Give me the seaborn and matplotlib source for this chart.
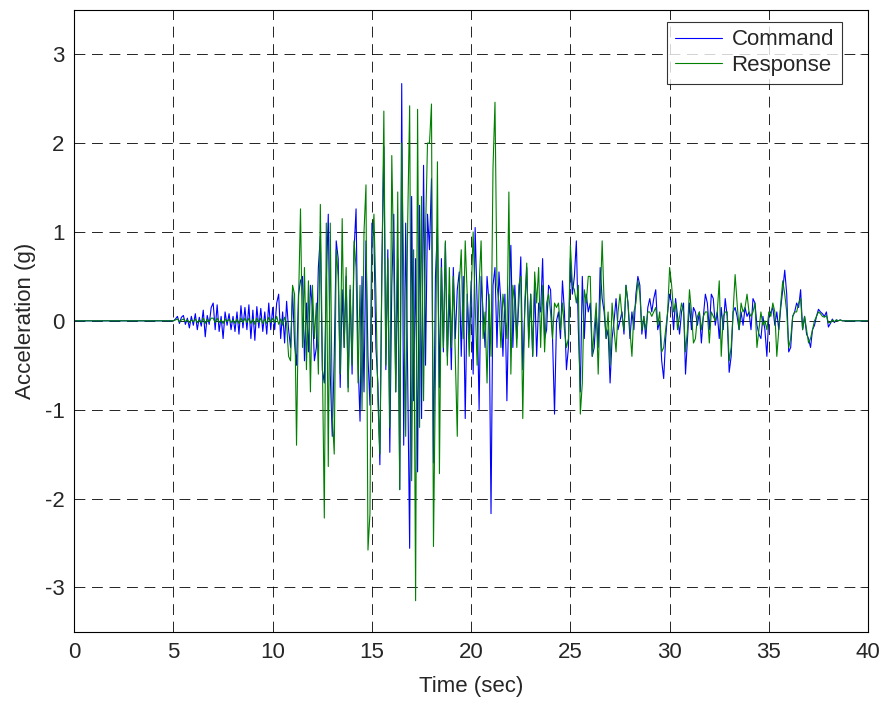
import numpy as np
import pandas as pd
import matplotlib
matplotlib.use('Agg')
from matplotlib import pyplot as plt
import seaborn as sns

sns.set_style('white')
plt.rcParams['font.family'] = ['Liberation Sans', 'DejaVu Sans']
plt.rcParams['axes.unicode_minus'] = False

# samples every 0.1 s starting at 5.0 s, signal is flat (0 g) outside this window
t_start = 5.0
dt = 0.1

# Command (blue), one row per second
command = [
    0.00, 0.02, 0.05, -0.03, 0.04, 0.06, -0.04, 0.03, -0.08, 0.05,
    -0.05, 0.08, -0.10, 0.04, -0.06, 0.12, -0.18, 0.06, -0.04, 0.15,
    0.20, -0.10, 0.18, -0.12, 0.05, -0.20, 0.10, -0.05, 0.08, -0.10,
    0.05, -0.12, 0.10, -0.15, 0.17, -0.08, 0.15, -0.10, 0.18, -0.20,
    0.12, -0.22, 0.16, -0.08, 0.14, -0.12, 0.10, -0.15, 0.20, -0.10,
    0.15, -0.10, 0.20, 0.30, -0.20, 0.10, -0.25, 0.22, -0.10, -0.30,
    0.35, -0.25, -0.50, 0.30, 0.45, 0.50, -0.45, 0.20, -0.35, 0.40,
    0.15, -0.45, -0.30, 0.60, 0.95, -0.55, -0.70, 0.45, 1.20, -0.60,
    -1.30, -0.40, 0.90, 0.70, -0.75, 0.35, -0.30, 0.50, -0.75, 0.35,
    -0.60, 0.80, 1.26, -0.45, -1.13, 0.50, -0.80, 0.90, -0.40, -0.95,
    1.10, 0.95, -0.30, -0.70, -1.62, 0.60, 1.96, -0.55, 0.80, -1.48,
    0.40, 1.20, -0.80, 0.70, -1.90, 2.67, -1.40, 1.10, -0.60, -2.56,
    1.40, -0.90, 0.70, -1.70, 1.30, -1.10, 1.75, -0.50, 1.20, 0.80,
    1.60, -1.60, 0.50, 1.05, -0.75, 0.70, -0.35, 0.88, -0.40, 0.30,
    -0.55, 0.60, -0.20, 0.35, 0.55, -0.40, 0.50, -1.10, 0.30, -0.20,
    0.45, -0.60, 1.05, 0.20, -1.00, 0.50, 0.10, -0.30, 0.50, 0.20,
    -2.17, 0.40, 0.60, -0.30, 0.55, 0.20, -0.40, 0.30, -0.90, 0.20,
    0.85, -0.30, 0.40, -0.20, 0.20, 0.72, -0.55, 0.10, 0.60, -0.20,
    0.30, -0.40, 0.40, -0.40, 0.20, 0.10, 0.70, -0.20, -0.10, 0.40,
    0.35, -0.20, -1.05, 0.00, 0.10, -0.20, 0.45, 0.10, -0.55, -0.30,
    0.70, 0.30, 0.50, 0.90, -0.10, -0.80, 0.50, -0.20, 0.30, 0.10,
    0.20, -0.40, -0.30, 0.10, -0.30, 0.60, 0.25, 0.10, -0.20, -0.10,
    -0.70, -0.20, 0.00, 0.25, -0.10, 0.00, 0.10, -0.15, 0.40, 0.20,
    -0.20, 0.10, -0.10, 0.30, 0.50, 0.40, -0.15, 0.05, -0.20, 0.15,
    0.25, 0.10, 0.25, 0.35, -0.10, 0.00, -0.45, -0.65, -0.20, 0.10,
    0.30, 0.20, -0.10, 0.25, 0.05, -0.15, 0.10, 0.20, -0.60, -0.20,
    0.20, -0.10, 0.15, 0.10, -0.05, 0.10, -0.25, 0.05, 0.30, 0.20,
    -0.10, 0.30, 0.25, -0.05, 0.10, -0.20, 0.15, -0.10, 0.25, 0.05,
    -0.58, -0.40, 0.10, 0.15, 0.05, -0.10, 0.10, -0.05, 0.15, 0.05,
    0.10, -0.10, 0.25, 0.20, -0.05, -0.15, -0.20, 0.05, -0.10, -0.40,
    0.05, 0.10, 0.15, -0.05, 0.10, -0.10, 0.15, 0.35, 0.57, 0.30,
    -0.35, -0.30, 0.05, 0.10, 0.20, 0.15, 0.35, -0.10, 0.05, -0.15,
    -0.20, -0.30, -0.10, -0.05, 0.05, 0.13, 0.10, 0.08, 0.05, 0.10,
    -0.07, -0.03, 0.02, -0.02, 0.01, 0.00, 0.01, 0.00, 0.00, 0.00,
]

# Response (green)
response = [
    0.00, 0.01, 0.02, -0.01, 0.01, 0.02, -0.01, 0.01, -0.02, 0.01,
    -0.01, 0.02, -0.02, 0.01, -0.02, 0.03, -0.03, 0.02, -0.01, 0.03,
    0.03, -0.02, 0.03, -0.02, 0.01, -0.03, 0.02, -0.01, 0.02, -0.02,
    0.01, -0.03, 0.02, -0.03, 0.03, -0.02, 0.03, -0.02, 0.03, -0.03,
    0.02, -0.04, 0.03, -0.02, 0.03, -0.03, 0.02, -0.03, 0.04, -0.02,
    0.03, -0.02, 0.05, -0.04, 0.02, -0.05, 0.04, -0.03, -0.40, -0.45,
    0.40, 0.30, -1.40, 0.20, 1.26, -0.30, 0.60, -0.55, 0.45, -0.80,
    0.40, -0.20, 0.20, -0.60, 1.31, -0.40, -2.22, 1.10, -1.64, 1.10,
    -1.06, -1.50, 0.80, 0.50, -0.60, 1.15, -0.30, 0.60, -0.80, 0.40,
    -0.50, 0.90, 0.60, -0.70, 0.40, -1.00, 1.00, 1.53, -2.58, -2.17,
    0.80, 1.20, 0.30, -0.90, -1.50, 0.50, 2.36, -0.50, 0.70, -1.20,
    1.86, 0.60, -0.80, 1.45, -1.90, 2.00, 0.50, -1.30, 1.10, 2.42,
    -1.80, 0.80, -3.15, 2.38, -1.20, 1.40, -0.90, 1.00, 2.00, 2.00,
    2.44, -2.54, -0.60, 1.79, -1.72, 0.60, -0.30, 0.90, -0.50, 0.60,
    -0.30, 0.50, -0.40, -1.30, 0.40, 0.80, -0.20, 0.90, 0.30, -0.40,
    0.30, 1.00, 0.20, -0.50, 0.40, 0.90, -0.20, 0.10, -0.70, 0.30,
    -0.40, 1.72, 2.46, 0.40, 0.20, -0.30, 0.30, 0.10, -0.20, 1.45,
    -0.60, 0.40, 0.20, -0.30, 0.40, 0.50, -1.10, 0.20, 0.65, -0.30,
    0.30, -0.40, 0.55, 0.20, 0.60, -0.30, 0.40, -0.35, 0.20, 0.30,
    0.10, -0.20, 0.20, 0.15, 0.20, -0.10, 0.20, -0.10, -0.30, -0.20,
    0.85, 0.40, 0.35, 0.20, 0.40, -1.05, -0.70, 0.35, 0.20, 0.50,
    0.50, -0.40, -0.10, 0.20, -0.60, 0.20, 0.90, 0.20, -0.20, 0.10,
    -0.50, 0.20, -0.10, -0.35, 0.10, 0.30, 0.05, -0.10, 0.40, 0.20,
    -0.10, -0.40, 0.10, 0.20, 0.45, 0.30, -0.10, 0.05, -0.10, 0.10,
    0.10, 0.05, 0.10, 0.15, -0.05, 0.10, -0.35, -0.30, -0.10, 0.10,
    0.60, 0.40, 0.10, 0.20, -0.10, 0.05, 0.20, 0.10, -0.35, -0.10,
    0.35, 0.10, -0.25, -0.20, 0.05, 0.10, -0.10, 0.05, 0.10, 0.10,
    -0.25, 0.10, 0.05, 0.00, 0.10, 0.45, -0.40, 0.05, 0.10, 0.10,
    -0.45, -0.30, 0.10, 0.52, 0.20, -0.10, 0.20, 0.10, 0.15, 0.30,
    0.10, 0.05, 0.10, 0.20, -0.30, -0.10, 0.10, -0.05, 0.00, -0.10,
    0.10, 0.05, 0.20, 0.10, -0.40, -0.10, 0.20, 0.45, 0.30, 0.10,
    -0.30, -0.20, 0.05, 0.10, 0.10, 0.20, 0.25, -0.10, 0.05, -0.10,
    -0.25, -0.20, -0.10, 0.00, 0.05, 0.10, 0.08, 0.05, 0.04, 0.06,
    -0.02, -0.02, 0.01, -0.01, 0.01, 0.00, 0.01, 0.00, 0.00, 0.00,
]

time = t_start + dt * np.arange(len(command))
# flat record before and after the shaking
time = np.concatenate([[0.0], time, [40.0]])
command = [0.0] + command + [0.0]
response = [0.0] + response + [0.0]

df = pd.concat([
    pd.DataFrame({'Time': time, 'Acceleration': command, 'Signal': 'Command'}),
    pd.DataFrame({'Time': time, 'Acceleration': response, 'Signal': 'Response'}),
])

fig = plt.figure(figsize=(8.84, 7.02), dpi=100)
ax = fig.add_axes([0.084, 0.1, 0.898, 0.886])
sns.lineplot(data=df, x='Time', y='Acceleration', hue='Signal',
             palette={'Command': (0, 0, 1), 'Response': (0, 0.5, 0)},
             linewidth=0.8, estimator=None, sort=False, ax=ax)

ax.set_xlim(0, 40)
ax.set_ylim(-3.5, 3.5)
ax.set_xticks(range(0, 41, 5))
ax.set_yticks(range(-3, 4))
ax.grid(True, color='black', linestyle=(0, (13, 8)), linewidth=0.6)
ax.tick_params(direction='in', top=True, right=True, labelsize=16, length=6,
               width=0.6, pad=7)
for s in ax.spines.values():
    s.set_color('black')
    s.set_linewidth(0.8)
ax.set_xlabel('Time (sec)', fontsize=16, labelpad=10)
ax.set_ylabel('Acceleration (g)', fontsize=16, labelpad=6)

leg = ax.legend(loc='upper right', bbox_to_anchor=(0.967, 0.981), borderaxespad=0,
                fontsize=16, frameon=True, fancybox=False, edgecolor='black',
                handlelength=2.1, borderpad=0.35, labelspacing=0.2,
                handletextpad=0.45)
leg.get_frame().set_linewidth(0.8)
for h in leg.get_lines():
    h.set_linewidth(0.8)

fig.savefig('out.png', dpi=100)
